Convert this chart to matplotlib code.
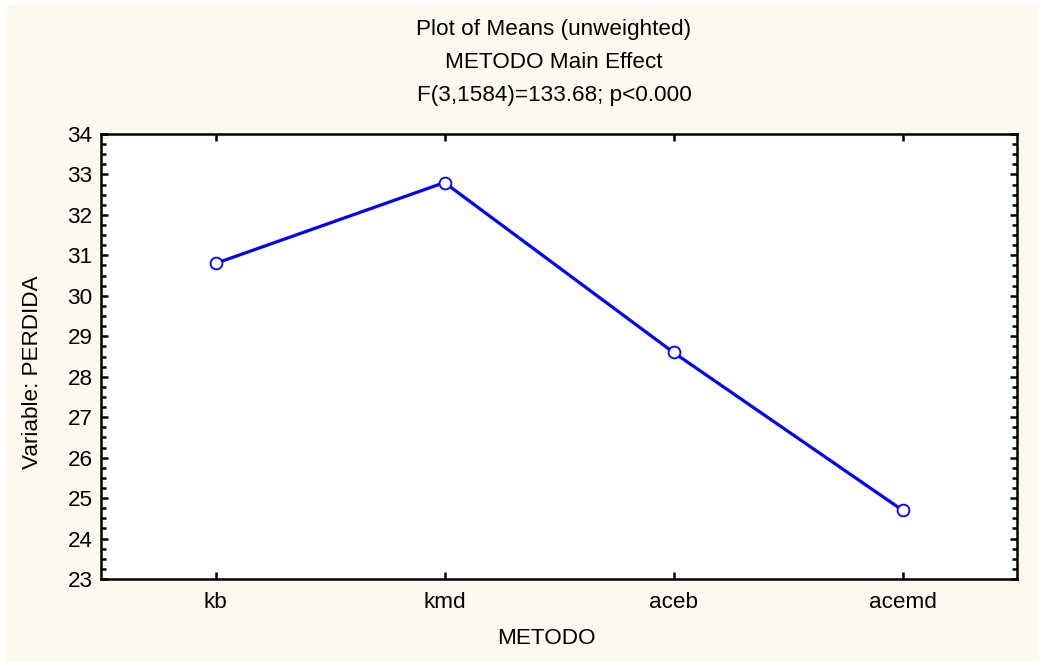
import matplotlib.pyplot as plt
from matplotlib.patches import Rectangle
from matplotlib.ticker import MultipleLocator

plt.rcParams['font.family'] = ['Liberation Sans', 'DejaVu Sans']

# datos del grafico
metodos = ["kb", "kmd", "aceb", "acemd"]
perdida = [30.8, 32.8, 28.6, 24.7]
titulo = ["Plot of Means (unweighted)", "METODO Main Effect", "F(3,1584)=133.68; p<0.000"]

fs = 16.2
W, H = 1039, 662

fig = plt.figure(figsize=(W/100, H/100), dpi=100, facecolor="white")
# fondo crema con un borde blanco fino arriba y a la izquierda
fig.patches.append(Rectangle((6/W, 0), 1, 1 - 5/H, transform=fig.transFigure,
                             facecolor="#fdf9ee", edgecolor="none", zorder=-1))

ax = fig.add_axes([101/W, 1 - 579/H, 916/W, 445/H])
ax.set_facecolor("white")

x = list(range(len(metodos)))
ax.plot(x, perdida, "-o", color="#0000ff", lw=2.3, ms=8.5,
        markerfacecolor="white", markeredgecolor="#0000ff", markeredgewidth=1.3)

ax.set_xlim(-0.5, len(metodos) - 0.5)
ax.set_ylim(23, 34)
ax.set_xticks(x)
ax.set_xticklabels(metodos)
ax.yaxis.set_major_locator(MultipleLocator(1))
ax.yaxis.set_minor_locator(MultipleLocator(0.25))

for s in ax.spines.values():
    s.set_linewidth(1.8)
ax.tick_params(axis="both", which="major", direction="in", length=5, width=1.8,
               labelsize=fs, top=True, right=True)
ax.tick_params(axis="x", which="major", pad=9)
ax.tick_params(axis="y", which="major", pad=6)
ax.tick_params(axis="y", which="minor", direction="in", length=3.5, width=1.8,
               left=True, right=True)

ax.set_xlabel("METODO", fontsize=fs)
ax.set_ylabel("Variable: PERDIDA", fontsize=fs)
ax.xaxis.set_label_coords((546 - 101)/916, -(639 - 579)/445)
ax.yaxis.set_label_coords(-(101 - 33)/916, (579 - 372)/445)
ax.xaxis.label.set_va("center")
ax.yaxis.label.set_va("center")

for i, t in enumerate(titulo):
    fig.text(554/W, 1 - (30 + 32.5*i)/H, t, ha="center", va="center", fontsize=fs)

plt.savefig("out.png", dpi=100)
